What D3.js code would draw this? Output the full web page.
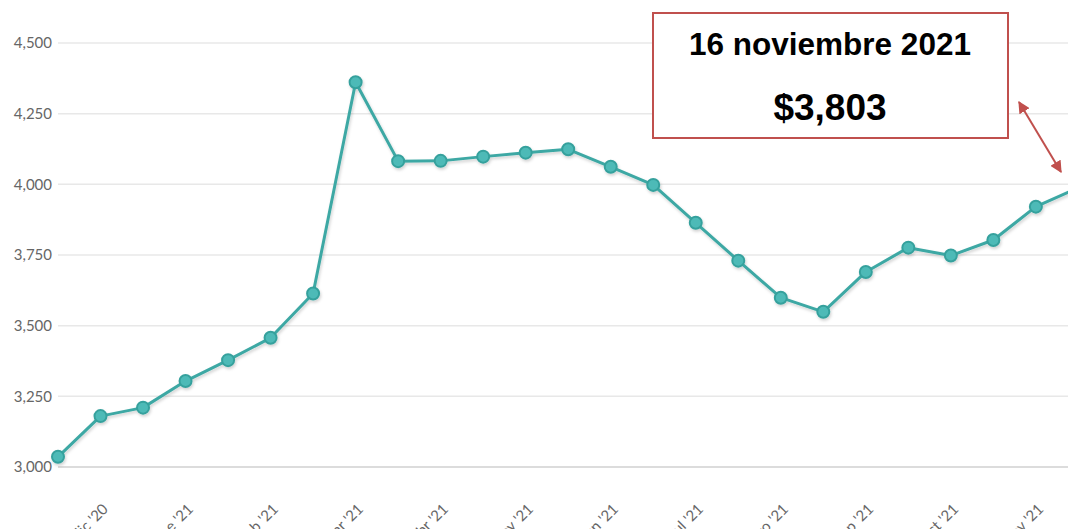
<!DOCTYPE html>
<html>
<head>
<meta charset="utf-8">
<script src="https://cdn.jsdelivr.net/npm/d3@7"></script>
<style>
  body { margin: 0; background: #fff; }
  svg { display: block; }
</style>
</head>
<body>
<div id="the_chart"></div>
<script>

// fechas quincenales (1 y 16 de cada mes)
var dates = ["2020-11-16", "2020-12-01", "2020-12-16", "2021-01-01", "2021-01-16",
  "2021-02-01", "2021-02-16", "2021-03-01", "2021-03-16", "2021-04-01", "2021-04-16",
  "2021-05-01", "2021-05-16", "2021-06-01", "2021-06-16", "2021-07-01", "2021-07-16",
  "2021-08-01", "2021-08-16", "2021-09-01", "2021-09-16", "2021-10-01", "2021-10-16",
  "2021-11-01", "2021-11-16"];

var values = [3036, 3180, 3210, 3304, 3378, 3457, 3614, 4361, 4082, 4083, 4098,
  4112, 4124, 4062, 3998, 3864, 3730, 3599, 3549, 3690, 3776, 3748, 3803,
  3921, 3988];

var tickDates = ["2020-12-01", "2021-01-01", "2021-02-01", "2021-03-01", "2021-04-01",
  "2021-05-01", "2021-06-01", "2021-07-01", "2021-08-01", "2021-09-01", "2021-10-01",
  "2021-11-01"];
var tickLabels = ["dic '20", "ene '21", "feb '21", "mar '21", "abr '21", "may '21",
  "jun '21", "jul '21", "ago '21", "sep '21", "oct '21", "nov '21"];

var yTicks = [3000, 3250, 3500, 3750, 4000, 4250, 4500];

var noteDate = "16 noviembre 2021";
var noteValue = "$3,803";

var dataset = dates.map(function (d, i) { return { date: d, value: values[i] }; });

var w = 1068;
var h = 529;

var svg = d3.select("#the_chart")
  .append("svg")
  .attr("width", w)
  .attr("height", h);

var padLeft = 58, padTop = 43, axisY = 467;

var xscale = d3.scalePoint()
  .domain(dates)
  .range([padLeft, 1078.4]);

var yscale = d3.scaleLinear()
  .domain([3000, 4500])
  .range([axisY, padTop]);

var defs = svg.append("defs");
var shadow = defs.append("filter")
  .attr("id", "shadow")
  .attr("x", "-10%").attr("y", "-10%")
  .attr("width", "120%").attr("height", "130%");
shadow.append("feDropShadow")
  .attr("dx", 1).attr("dy", 2)
  .attr("stdDeviation", 1.5)
  .attr("flood-color", "#000")
  .attr("flood-opacity", 0.18);

defs.append("marker")
  .attr("id", "head")
  .attr("viewBox", "0 0 10 10")
  .attr("refX", 9).attr("refY", 5)
  .attr("markerWidth", 6).attr("markerHeight", 6)
  .attr("markerUnits", "strokeWidth")
  .attr("orient", "auto-start-reverse")
  .append("path")
  .attr("d", "M0,0L10,5L0,10z")
  .attr("fill", "#c0504d");

// grid
svg.append("g")
  .selectAll("line")
  .data(yTicks)
  .enter().append("line")
  .attr("x1", padLeft)
  .attr("x2", w)
  .attr("y1", function (d) { return yscale(d); })
  .attr("y2", function (d) { return yscale(d); })
  .attr("stroke", function (d) { return d == 3000 ? "#dcdcdc" : "#e8e8e8"; })
  .attr("stroke-width", function (d) { return d == 3000 ? 2 : 1.5; });

var yaxis = d3.axisLeft()
  .scale(yscale)
  .tickValues(yTicks)
  .tickFormat(d3.format(","))
  .tickSize(0)
  .tickPadding(6);

var gY = svg.append("g")
  .attr("transform", "translate(" + padLeft + ",0)")
  .call(yaxis);
gY.select(".domain").remove();
gY.selectAll("text")
  .attr("fill", "#666")
  .style("font-family", "Lato, sans-serif")
  .style("font-size", "15px");

var xaxis = d3.axisBottom()
  .scale(xscale)
  .tickValues(tickDates)
  .tickFormat(function (d, i) { return tickLabels[i]; })
  .tickSize(0);

var gX = svg.append("g")
  .attr("transform", "translate(0," + axisY + ")")
  .call(xaxis);
gX.select(".domain").remove();
gX.selectAll("text")
  .attr("x", 0)
  .attr("y", 0)
  .attr("dy", 0)
  .attr("text-anchor", "end")
  .attr("transform", "translate(8,43) rotate(-45)")
  .attr("fill", "#666")
  .style("font-family", "Lato, sans-serif")
  .style("font-size", "15px");

// serie
var line = d3.line()
  .x(function (d) { return xscale(d.date); })
  .y(function (d) { return yscale(d.value); });

var series = svg.append("g").attr("filter", "url(#shadow)");

series.append("path")
  .datum(dataset)
  .attr("d", line)
  .attr("fill", "none")
  .attr("stroke", "#3ea8a4")
  .attr("stroke-width", 3)
  .attr("stroke-linejoin", "round");

series.selectAll("circle")
  .data(dataset)
  .enter().append("circle")
  .attr("r", 6)
  .attr("cx", function (d) { return xscale(d.date); })
  .attr("cy", function (d) { return yscale(d.value); })
  .attr("fill", "#4dbab7")
  .attr("stroke", "#36a19d")
  .attr("stroke-width", 2);

// anotación
svg.append("rect")
  .attr("x", 653)
  .attr("y", 13)
  .attr("width", 355)
  .attr("height", 125)
  .attr("fill", "#fff")
  .attr("stroke", "#c0504d")
  .attr("stroke-width", 2);

svg.append("text")
  .attr("x", 830)
  .attr("y", 55)
  .attr("text-anchor", "middle")
  .style("font-family", "'Liberation Sans', Arial, sans-serif")
  .style("font-weight", "bold")
  .style("font-size", "31.5px")
  .attr("fill", "#000")
  .text(noteDate);

svg.append("text")
  .attr("x", 830)
  .attr("y", 120)
  .attr("text-anchor", "middle")
  .style("font-family", "'Liberation Sans', Arial, sans-serif")
  .style("font-weight", "bold")
  .style("font-size", "37px")
  .attr("fill", "#000")
  .text(noteValue);

svg.append("line")
  .attr("x1", 1019)
  .attr("y1", 102)
  .attr("x2", 1061)
  .attr("y2", 172)
  .attr("stroke", "#c0504d")
  .attr("stroke-width", 2)
  .attr("marker-start", "url(#head)")
  .attr("marker-end", "url(#head)");

</script>
</body>
</html>
